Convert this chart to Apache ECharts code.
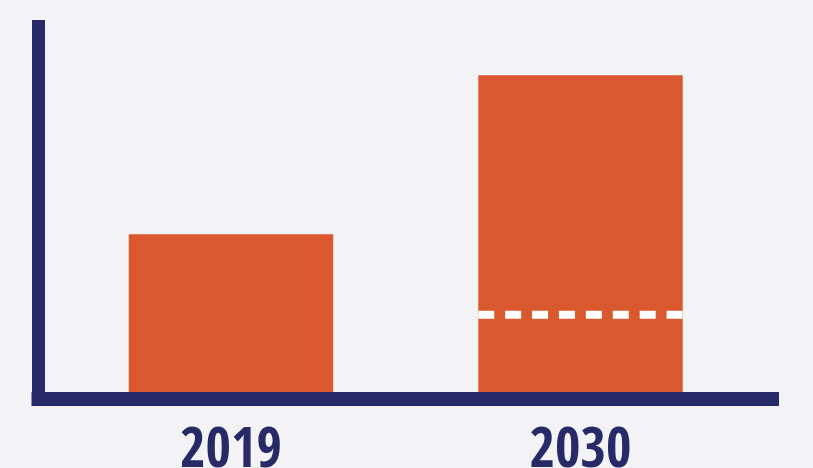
<!DOCTYPE html>
<html>
<head>
<meta charset="utf-8">
<script src="https://cdn.jsdelivr.net/npm/echarts@6/dist/echarts.min.js"></script>
<style>
html,body{margin:0;padding:0;background:#f3f3f6;}
#chart{width:813px;height:468px;}
</style>
</head>
<body>
<div id="chart"></div>
<script>
// Data
const categories = ['2019', '2030'];
const barValues = [100, 201];
const dashedCategory = '2030';
const dashedValue = 49;

const NAVY = '#282a68';
const ORANGE = '#d9582d';
const BAR_FRAC = 0.585;

const chart = echarts.init(document.getElementById('chart'), null, {renderer: 'canvas'});
chart.setOption({
  backgroundColor: '#f3f3f6',
  animation: false,
  grid: [
    {left: 56.25, width: 699, top: 20, bottom: 76, outerBoundsMode: 'none', containLabel: false},
    {left: 38.5, right: 41, top: 20, bottom: 69, outerBoundsMode: 'none', containLabel: false}
  ],
  xAxis: [
    {
      type: 'category', gridIndex: 0, data: categories,
      axisLine: {show: false}, axisTick: {show: false},
      axisLabel: {
        margin: 33, color: NAVY, fontSize: 55, fontWeight: 'bold',
        fontFamily: '"Open Sans Condensed", "Roboto Condensed", sans-serif', lineHeight: 55
      },
      splitLine: {show: false}
    },
    {
      type: 'value', gridIndex: 1, min: 0, max: 1, z: 5,
      axisLine: {show: true, lineStyle: {color: NAVY, width: 14, cap: 'square'}},
      axisTick: {show: false}, axisLabel: {show: false}, splitLine: {show: false}
    }
  ],
  yAxis: [
    {
      type: 'value', gridIndex: 0, min: 0, max: 236,
      axisLine: {show: false}, axisTick: {show: false}, axisLabel: {show: false}, splitLine: {show: false}
    },
    {
      type: 'value', gridIndex: 1, min: 0, max: 1, z: 5,
      axisLine: {show: true, lineStyle: {color: NAVY, width: 13, cap: 'butt'}, symbol: 'none'},
      axisTick: {show: false}, axisLabel: {show: false}, splitLine: {show: false}
    }
  ],
  series: [
    {
      type: 'bar', xAxisIndex: 0, yAxisIndex: 0,
      data: barValues, barWidth: (BAR_FRAC * 100) + '%',
      itemStyle: {color: ORANGE}, z: 2
    },
    {
      type: 'custom', xAxisIndex: 0, yAxisIndex: 0, z: 3,
      data: [[dashedCategory, dashedValue]],
      renderItem: function (params, api) {
        const p = api.coord([api.value(0), api.value(1)]);
        const w = api.size([1, 0])[0] * BAR_FRAC;
        return {
          type: 'line',
          shape: {x1: p[0] - w / 2, y1: p[1], x2: p[0] + w / 2, y2: p[1]},
          style: {stroke: '#ffffff', lineWidth: 8, lineDash: [16, 10.9]}
        };
      }
    }
  ]
});
</script>
</body>
</html>
